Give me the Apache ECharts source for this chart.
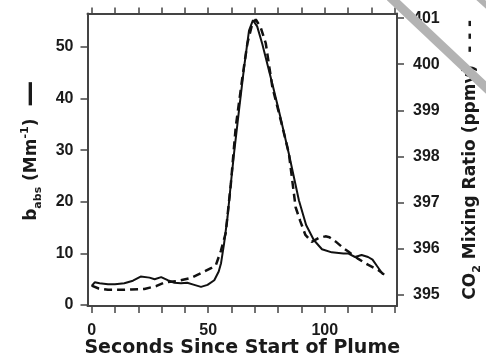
<!DOCTYPE html>
<html>
<head>
<meta charset="utf-8">
<script src="https://cdn.jsdelivr.net/npm/echarts@6/dist/echarts.min.js"></script>
<style>html,body{margin:0;padding:0;background:#fff;}#c{width:486px;height:360px;}</style>
</head>
<body>
<div id="c"></div>
<script>
// b_abs (solid line, left axis)
const timeBabs = [0, 1.3, 3.4, 7, 10, 14, 17.7, 21, 24.8, 27, 29.8, 32.6, 35.5, 38.3, 41, 44, 46.9, 49.7, 52.6, 54.5, 55.5, 56.8, 58.3, 59.7, 61.1, 63.2, 65.4, 67.5, 69.2, 71, 73.2, 77.5, 80.3, 84.6, 88.9, 92, 95.3, 98.8, 103, 108, 110, 113, 115.8, 118.6, 120.5, 122.5, 125];
const babs = [3.7, 4.4, 4.2, 4.0, 4.0, 4.2, 4.7, 5.5, 5.3, 5.0, 5.4, 4.8, 4.3, 4.2, 4.3, 3.9, 3.5, 3.9, 4.8, 6.5, 8.1, 11.9, 17.1, 23.5, 29.5, 37.7, 46.1, 53.2, 55.2, 54.0, 50.6, 42.9, 37.7, 29.3, 20.3, 15.5, 12.6, 10.8, 10.2, 10.0, 10.0, 9.3, 9.7, 9.3, 8.8, 7.5, 5.9];
// CO2 mixing ratio (dashed line, right axis)
const timeCO2 = [0, 3, 7, 12.7, 17, 22.6, 27.6, 31.2, 36.9, 42.6, 46.9, 51.2, 53.3, 55.4, 57.5, 59.7, 61.8, 64.7, 66.8, 68.9, 70.4, 72.5, 74.7, 77.5, 81.1, 84.6, 87.5, 89.5, 91.7, 94.4, 97.3, 100.3, 102, 104.6, 108.1, 110.1, 114.4, 118.7, 122.9, 125.5];
const co2 = [395.2, 395.14, 395.11, 395.11, 395.12, 395.13, 395.19, 395.27, 395.3, 395.37, 395.47, 395.58, 395.65, 395.95, 396.34, 397.4, 398.64, 399.73, 400.45, 400.88, 400.97, 400.8, 400.45, 399.51, 398.79, 398.07, 396.9, 396.6, 396.3, 396.15, 396.23, 396.27, 396.25, 396.16, 396.01, 395.94, 395.78, 395.65, 395.54, 395.44];
// ticks
const xTicks = [0, 10, 20, 30, 40, 50, 60, 70, 80, 90, 100, 110, 120, 130];
const xLabels = [0, 50, 100];
const leftTicks = [0, 10, 20, 30, 40, 50];
const rightTicks = [395, 396, 397, 398, 399, 400, 401];

const chart = echarts.init(document.getElementById('c'), null, {renderer: 'canvas'});
const axisColor = '#444';
const textColor = '#1a1a1a';
const labelFont = {fontFamily: 'Liberation Sans', fontWeight: 'bold', fontSize: 16, color: textColor};
const titleTok = {fontFamily: 'DejaVu Sans', fontWeight: 'bold', fontSize: 17, color: textColor, lineHeight: 24};
const subTok = {fontFamily: 'DejaVu Sans', fontWeight: 'bold', fontSize: 11, color: textColor, lineHeight: 12, verticalAlign: 'bottom'};
const supTok = {fontFamily: 'DejaVu Sans', fontWeight: 'bold', fontSize: 11, color: textColor, lineHeight: 12, verticalAlign: 'top'};

const option = {
  animation: false,
  backgroundColor: '#fff',
  grid: {left: 87.5, right: 89, top: 13.5, bottom: 54, containLabel: false, outerBoundsMode: 'none'},
  xAxis: [{
    type: 'value', position: 'bottom', min: -1.8, max: 131,
    axisLine: {show: true, onZero: false, lineStyle: {color: axisColor, width: 2}},
    axisTick: {show: true, inside: false, length: 7, customValues: xTicks, lineStyle: {color: axisColor, width: 1.5}},
    axisLabel: Object.assign({margin: 17, customValues: xLabels}, labelFont),
    splitLine: {show: false},
    name: 'Seconds Since Start of Plume', nameLocation: 'middle', nameGap: 33, nameMoveOverlap: false,
    nameTextStyle: {fontFamily: 'DejaVu Sans', fontWeight: 'bold', fontSize: 19, color: textColor}
  }, {
    type: 'value', position: 'top', min: -1.8, max: 131,
    axisLine: {show: true, onZero: false, lineStyle: {color: axisColor, width: 2}},
    axisTick: {show: true, inside: false, length: 6, customValues: xTicks, lineStyle: {color: axisColor, width: 1.5}},
    axisLabel: {show: false},
    splitLine: {show: false}
  }],
  yAxis: [{
    type: 'value', position: 'left', min: -0.2, max: 56.5,
    axisLine: {show: true, onZero: false, lineStyle: {color: axisColor, width: 2}},
    axisTick: {show: true, inside: false, length: 7, customValues: leftTicks, lineStyle: {color: axisColor, width: 1.5}},
    axisLabel: Object.assign({margin: 14, customValues: leftTicks}, labelFont),
    splitLine: {show: false},
    name: '{t|b}{sub|abs}{t| (Mm}{sup|-1}{t|)  }{dash|—}',
    nameLocation: 'middle', nameRotate: 90, nameGap: 44, nameMoveOverlap: false,
    nameTextStyle: {padding: [0, 0, 0, 18], rich: {t: titleTok, sub: subTok, sup: supTok, dash: Object.assign({}, titleTok, {fontSize: 26})}}
  }, {
    type: 'value', position: 'right', min: 394.76, max: 401.1,
    axisLine: {show: true, onZero: false, lineStyle: {color: axisColor, width: 2}},
    axisTick: {show: true, inside: false, length: 7, customValues: rightTicks, lineStyle: {color: axisColor, width: 1.5}},
    axisLabel: Object.assign({margin: 16, customValues: rightTicks}, labelFont),
    splitLine: {show: false},
    name: '{t|CO}{sub|2}{t| Mixing Ratio (ppmv)  - - -}',
    nameLocation: 'middle', nameRotate: 90, nameGap: 62, nameMoveOverlap: false,
    nameTextStyle: {rich: {t: titleTok, sub: subTok}}
  }],
  series: [{
    type: 'line', xAxisIndex: 0, yAxisIndex: 0, symbol: 'none',
    data: timeBabs.map((t, i) => [t, babs[i]]),
    lineStyle: {color: '#111', width: 2}, z: 3
  }, {
    type: 'line', xAxisIndex: 0, yAxisIndex: 1, symbol: 'none',
    data: timeCO2.map((t, i) => [t, co2[i]]),
    lineStyle: {color: '#111', width: 2.5, type: [8, 5]}, z: 2
  }],
  graphic: [{
    type: 'line', z: 100,
    shape: {x1: 390, y1: -3, x2: 495, y2: 96},
    style: {stroke: '#b3b3b3', lineWidth: 9}
  }, {
    type: 'line', z: 100,
    shape: {x1: 472, y1: -8, x2: 494, y2: 12},
    style: {stroke: '#b3b3b3', lineWidth: 6}
  }]
};
chart.setOption(option);
</script>
</body>
</html>
